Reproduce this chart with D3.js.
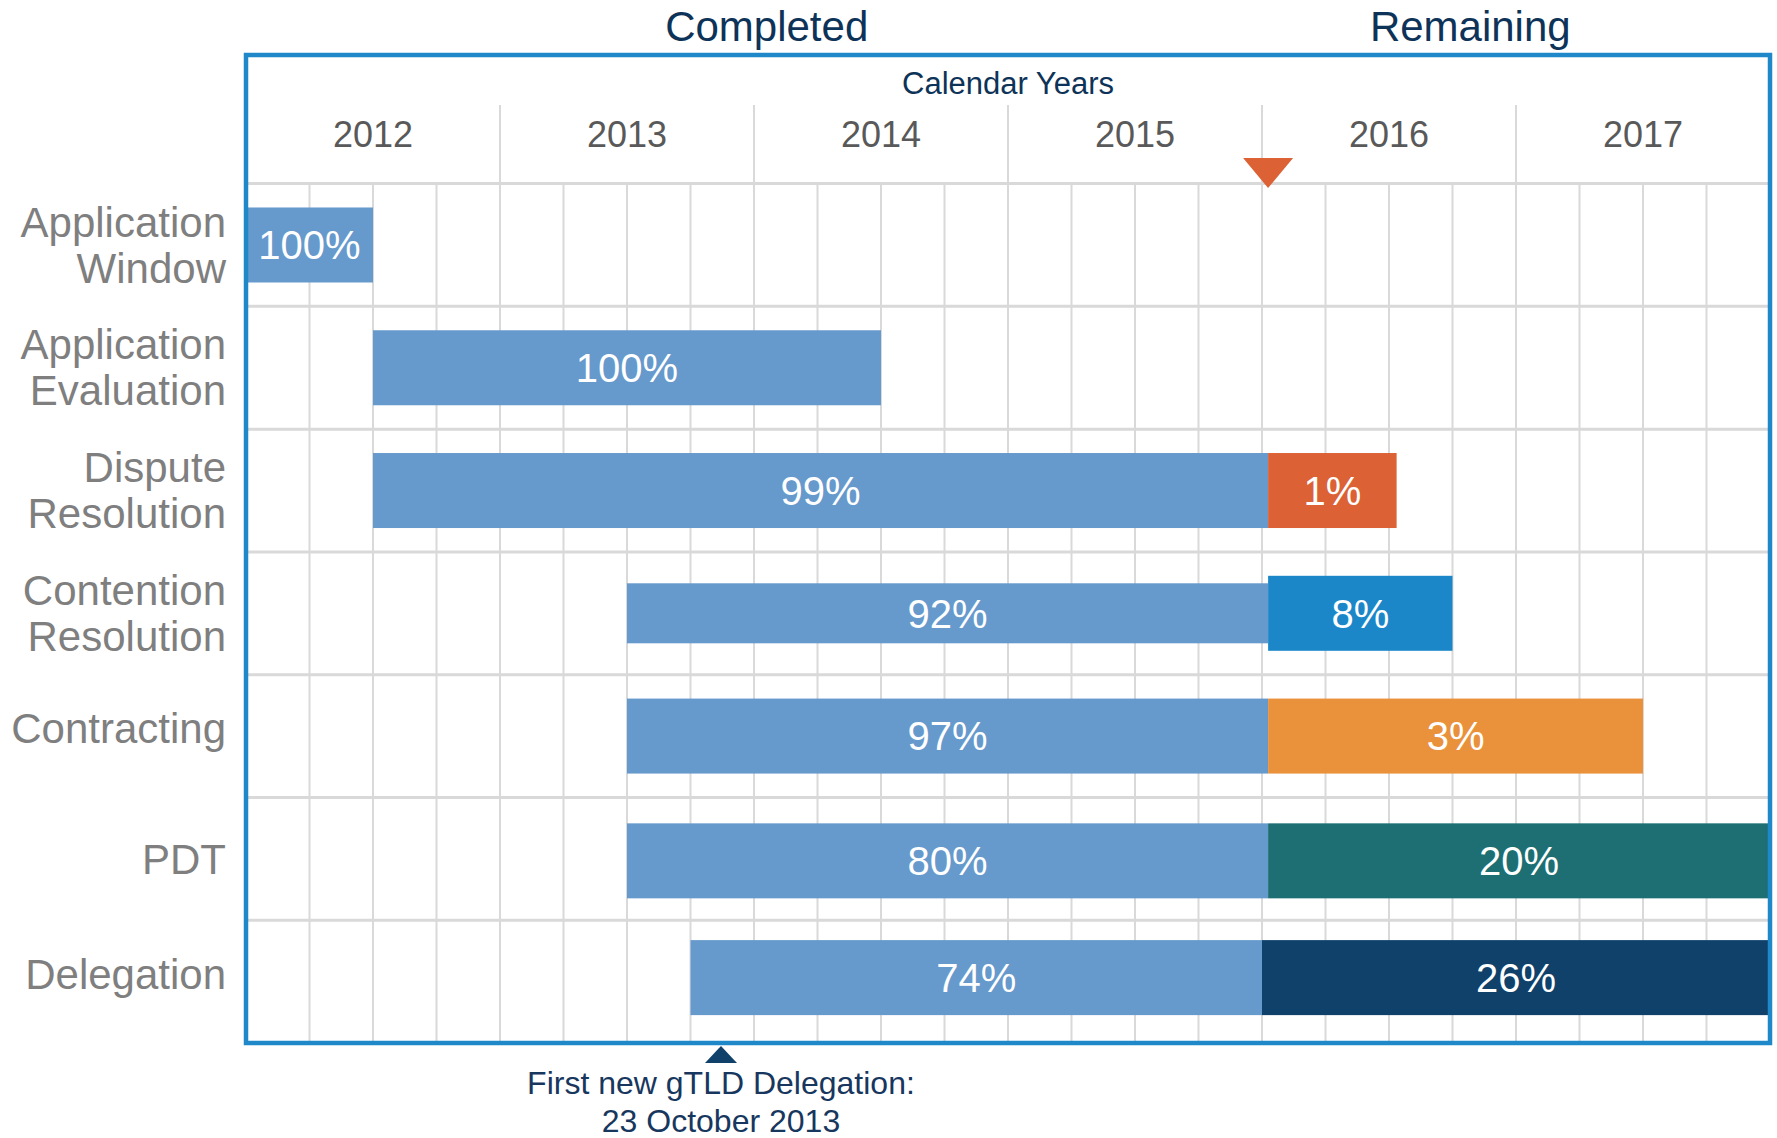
<!DOCTYPE html>
<html>
<head>
<meta charset="utf-8">
<script src="https://cdn.jsdelivr.net/npm/d3@7"></script>
<style>
  body { margin: 0; background: #fff; }
  svg { display: block; font-family: "Liberation Sans", Arial, sans-serif; }
</style>
</head>
<body>
<svg id="chart" width="1777" height="1138"></svg>
<script>
// --- data
const tasks = ["Application\nWindow", "Application\nEvaluation", "Dispute\nResolution",
               "Contention\nResolution", "Contracting", "PDT", "Delegation"];
const startYear   = [2012.0, 2012.5, 2012.5, 2013.5, 2013.5, 2013.5, 2013.75];
const splitYear   = [2012.5, 2014.5, 2016.024, 2016.024, 2016.024, 2016.024, 2016.0];
const endYear     = [2012.5, 2014.5, 2016.53, 2016.75, 2017.5, 2018.0, 2018.0];
const donePct     = [100, 100, 99, 92, 97, 80, 74];
const remainPct   = [0, 0, 1, 8, 3, 20, 26];
const years       = [2012, 2013, 2014, 2015, 2016, 2017];
const todayYear   = 2016.024;
const firstDelegationYear = 2013.87;

// --- styles
const doneColor = "#6699cc";
const remainColors = [null, null, "#dc6134", "#1b87c9", "#e9913b", "#1d6f73", "#0f416b"];
const barNudge   = [0, 0, 0, 0, 0, 2, -4];   // small vertical offsets seen in the original
const labelNudge = [0, 0, 0, 0, -8, 0, -7];
const navy = "#0e3358";
const gridColor = "#d9d9d9";
const frameColor = "#1e88c8";

const frame = { left: 246, right: 1770, top: 55, bottom: 1043 };
const headerBottom = 183.6;

const svg = d3.select("#chart");

const x = d3.scaleLinear().domain([2012, 2018]).range([frame.left, frame.right]);
const rows = d3.scaleBand().domain(tasks).range([headerBottom, frame.bottom]).padding(0);
const bw = rows.bandwidth();
const barH = 75;

const rowsData = tasks.map((t, i) => ({
  task: t, start: startYear[i], split: splitYear[i], end: endYear[i],
  done: donePct[i], remain: remainPct[i], color: remainColors[i], nudge: barNudge[i]
}));

// --- grid
const grid = svg.append("g");
grid.selectAll("line.q")
  .data(d3.range(1, 24).map(k => 2012 + k * 0.25))
  .join("line")
  .attr("x1", d => x(d)).attr("x2", d => x(d))
  .attr("y1", headerBottom).attr("y2", frame.bottom)
  .attr("stroke", gridColor).attr("stroke-width", 2);
grid.selectAll("line.y")
  .data(years.slice(1))
  .join("line")
  .attr("x1", d => x(d)).attr("x2", d => x(d))
  .attr("y1", 105).attr("y2", headerBottom)
  .attr("stroke", gridColor).attr("stroke-width", 2);
grid.selectAll("line.r")
  .data(tasks)
  .join("line")
  .attr("x1", frame.left).attr("x2", frame.right)
  .attr("y1", d => rows(d)).attr("y2", d => rows(d))
  .attr("stroke", gridColor).attr("stroke-width", 3);

// --- header text
svg.append("g").selectAll("text")
  .data(years)
  .join("text")
  .attr("x", d => x(d + 0.5))
  .attr("y", 147)
  .attr("text-anchor", "middle")
  .attr("font-size", 36)
  .attr("fill", "#595959")
  .text(d => d);

svg.append("text")
  .attr("x", x(2015)).attr("y", 94)
  .attr("text-anchor", "middle")
  .attr("font-size", 31)
  .attr("fill", navy)
  .text("Calendar Years");

svg.append("text")
  .attr("x", x(2014.05)).attr("y", 41)
  .attr("text-anchor", "middle")
  .attr("font-size", 42)
  .attr("fill", navy)
  .text("Completed");

svg.append("text")
  .attr("x", x(2016.82)).attr("y", 41)
  .attr("text-anchor", "middle")
  .attr("font-size", 42)
  .attr("fill", navy)
  .text("Remaining");

// --- bars
const bars = svg.append("g");
const doneH = d => d.task === "Contention\nResolution" ? 60 : barH;
const midY = d => rows(d.task) + bw / 2 + d.nudge;

bars.selectAll("rect.done")
  .data(rowsData)
  .join("rect")
  .attr("x", d => x(d.start))
  .attr("width", d => x(d.split) - x(d.start))
  .attr("y", d => midY(d) - doneH(d) / 2)
  .attr("height", d => doneH(d))
  .attr("fill", doneColor);

const remainRows = rowsData.filter(d => d.remain > 0);
bars.selectAll("rect.remain")
  .data(remainRows)
  .join("rect")
  .attr("x", d => x(d.split))
  .attr("width", d => x(d.end) - x(d.split))
  .attr("y", d => midY(d) - barH / 2)
  .attr("height", barH)
  .attr("fill", d => d.color);

bars.selectAll("text.done")
  .data(rowsData)
  .join("text")
  .attr("x", d => (x(d.start) + x(d.split)) / 2)
  .attr("y", d => midY(d))
  .attr("dy", "0.36em")
  .attr("text-anchor", "middle")
  .attr("font-size", 40)
  .attr("fill", "#fff")
  .text(d => d.done + "%");

bars.selectAll("text.remain")
  .data(remainRows)
  .join("text")
  .attr("x", d => (x(d.split) + x(d.end)) / 2)
  .attr("y", d => midY(d))
  .attr("dy", "0.36em")
  .attr("text-anchor", "middle")
  .attr("font-size", 40)
  .attr("fill", "#fff")
  .text(d => d.remain + "%");

// --- row labels
const lineH = 46;
svg.append("g").selectAll("text")
  .data(tasks)
  .join("text")
  .attr("text-anchor", "end")
  .attr("font-size", 42)
  .attr("fill", "#7f7f7f")
  .each(function(d, i) {
    const parts = d.split("\n");
    const cy = rows(d) + bw / 2 + labelNudge[i];
    const first = cy - (parts.length - 1) * lineH / 2 + 0.35 * 42;
    d3.select(this).selectAll("tspan")
      .data(parts)
      .join("tspan")
      .attr("x", 226)
      .attr("y", (p, j) => first + j * lineH)
      .text(p => p);
  });

// --- frame
svg.append("rect")
  .attr("x", frame.left).attr("y", frame.top)
  .attr("width", frame.right - frame.left)
  .attr("height", frame.bottom - frame.top)
  .attr("fill", "none")
  .attr("stroke", frameColor)
  .attr("stroke-width", 4.5);

// --- today marker
const tx = x(todayYear);
svg.append("path")
  .attr("d", `M${tx - 25},158 L${tx + 25},158 L${tx},188 Z`)
  .attr("fill", "#dc6134");

// --- first delegation marker
const fx = x(firstDelegationYear);
svg.append("path")
  .attr("d", `M${fx - 16},1063 L${fx + 16},1063 L${fx},1046 Z`)
  .attr("fill", "#0f416b");

svg.append("text")
  .attr("x", fx).attr("y", 1094)
  .attr("text-anchor", "middle")
  .attr("font-size", 32)
  .attr("fill", "#17375e")
  .text("First new gTLD Delegation:");
svg.append("text")
  .attr("x", fx).attr("y", 1132)
  .attr("text-anchor", "middle")
  .attr("font-size", 32)
  .attr("fill", "#17375e")
  .text("23 October 2013");
</script>
</body>
</html>
